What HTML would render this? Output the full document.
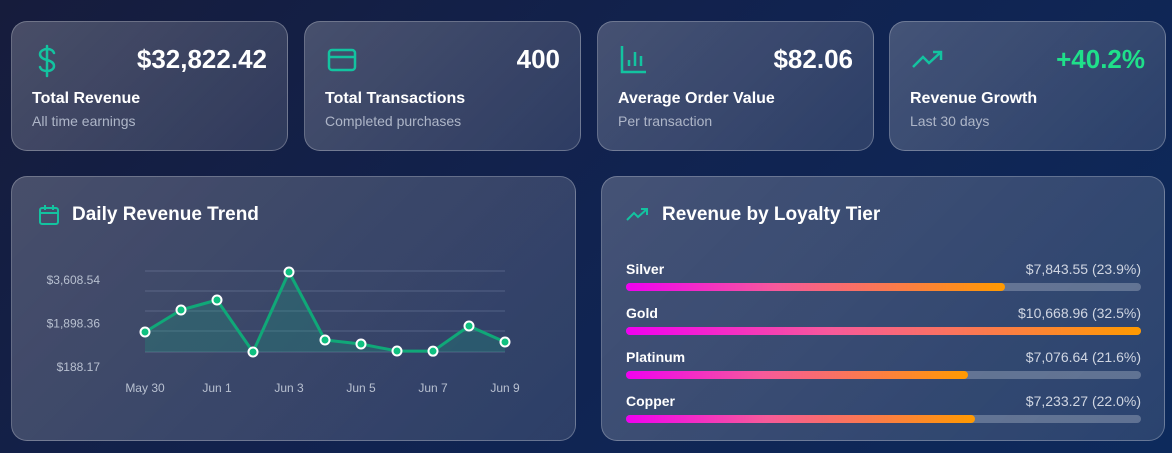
<!DOCTYPE html>
<html><head><meta charset="utf-8"><style>
*{box-sizing:border-box;margin:0;padding:0}
body{width:1172px;height:453px;overflow:hidden;font-family:"Liberation Sans",sans-serif;background:linear-gradient(135deg,#161c3c 0%,#112350 50%,#0d2a5c 100%);position:relative;color:#fff}
.card{position:absolute;border:1px solid rgba(255,255,255,0.25);border-radius:16px;background:linear-gradient(135deg,rgba(255,255,255,0.22),rgba(255,255,255,0.12))}
.icon{position:absolute;left:22px;top:22px}
.val{position:absolute;right:20px;top:22px;font-size:26px;font-weight:bold}
.lbl{position:absolute;left:20px;top:68px;font-size:16px;font-weight:bold}
.sub{position:absolute;left:20px;top:91px;font-size:14px;color:#aeb6c8}
.title{position:absolute;left:60px;top:27px;font-size:19px;font-weight:bold}
.tier{position:absolute;left:24px;width:515px}
.tier .n{position:absolute;left:0;top:-8px;font-size:14px;font-weight:bold}
.tier .v{position:absolute;right:0;top:-8px;font-size:14px;color:#d0d6e2}
.track{position:absolute;left:0;top:14px;width:515px;height:8px;border-radius:4px;background:rgba(160,170,190,0.45)}
.fill{height:8px;border-radius:4px;background:linear-gradient(90deg,#f000f0,#f65a9a 40%,#ff9a00)}
</style></head><body>
<div class="card" style="left:11px;top:21px;width:277px;height:130px">
<svg class="icon" width="26" height="34" viewBox="0 0 26 34"><path d="M13 2v30M20 9c-1-3-4-4-7-4s-7 2-7 5 3 5 7 6 7 3 7 6-3 5-7 5-6-1-7-4" fill="none" stroke="#13c3a0" stroke-width="2.5" stroke-linecap="round"/></svg>
<div class="val">$32,822.42</div>
<div class="lbl">Total Revenue</div>
<div class="sub">All time earnings</div></div>
<div class="card" style="left:304px;top:21px;width:277px;height:130px">
<svg class="icon" style="top:26px" width="30" height="24" viewBox="0 0 30 24"><rect x="2" y="2" width="26" height="20" rx="3" fill="none" stroke="#13c3a0" stroke-width="2.5"/><path d="M2 9h26" stroke="#13c3a0" stroke-width="2.5"/></svg>
<div class="val">400</div>
<div class="lbl">Total Transactions</div>
<div class="sub">Completed purchases</div></div>
<div class="card" style="left:597px;top:21px;width:277px;height:130px">
<svg class="icon" width="28" height="30" viewBox="0 0 28 30"><path d="M2 2v26h24M9 22v-6M15 22V8M21 22v-10" fill="none" stroke="#13c3a0" stroke-width="2.5"/></svg>
<div class="val">$82.06</div>
<div class="lbl">Average Order Value</div>
<div class="sub">Per transaction</div></div>
<div class="card" style="left:889px;top:21px;width:277px;height:130px">
<svg class="icon" style="top:28px" width="32" height="20" viewBox="0 0 32 20"><path d="M1 17l10-10 6 6 12-11M21 2h8v8" fill="none" stroke="#13c3a0" stroke-width="2.5"/></svg>
<div class="val" style="color:#1fe08a">+40.2%</div>
<div class="lbl">Revenue Growth</div>
<div class="sub">Last 30 days</div></div>

<div class="card" style="left:11px;top:176px;width:565px;height:265px">
<svg style="position:absolute;left:26px;top:27px" width="22" height="22" viewBox="0 0 22 22"><rect x="2" y="4" width="18" height="16" rx="2" fill="none" stroke="#13c3a0" stroke-width="2"/><path d="M2 9h18M7 1v5M15 1v5" stroke="#13c3a0" stroke-width="2"/></svg>
<div class="title">Daily Revenue Trend</div></div>
<svg id="chart" style="position:absolute;left:0;top:0" width="600" height="453"></svg>

<div class="card" style="left:601px;top:176px;width:564px;height:265px">
<svg style="position:absolute;left:24px;top:31px" width="24" height="14" viewBox="0 0 24 14"><path d="M1 12l7-7 4 4 9-8M15 1h6v6" fill="none" stroke="#13c3a0" stroke-width="2"/></svg>
<div class="title">Revenue by Loyalty Tier</div>
<div id="tiers"></div></div>
<script>
const categories=["May 30","May 31","Jun 1","Jun 2","Jun 3","Jun 4","Jun 5","Jun 6","Jun 7","Jun 8","Jun 9"];
const revenue=[1564,2429,2822,778,3923,1249,1092,817,810,1800,1171];
const yTicks=["$3,608.54","$1,898.36","$188.17"];
const yTickVals=[3608.54,1898.36,188.17];
const xTickIdx=[0,2,4,6,8,10];
const tierNames=["Silver","Gold","Platinum","Copper"];
const tierValues=[7843.55,10668.96,7076.64,7233.27];
const tierPct=["23.9%","32.5%","21.6%","22.0%"];

const NS="http://www.w3.org/2000/svg";
const svg=document.getElementById('chart');
const x=i=>145+i*(360/(categories.length-1));
const y=v=>367-(v-188.17)/(3608.54-188.17)*87;
function mk(t,a){const e=document.createElementNS(NS,t);for(const k in a)e.setAttribute(k,a[k]);svg.appendChild(e);return e;}
[271,291,311,331,352].forEach(gy=>{const l=mk('line',{x1:145,x2:505,y1:gy,y2:gy,stroke:'rgba(150,165,195,0.22)','stroke-width':1.5});

});
yTicks.forEach((t,i)=>{const e=mk('text',{x:100,y:y(yTickVals[i])+4,'text-anchor':'end','font-size':12,fill:'#b8c0d0'});e.textContent=t;

});
xTickIdx.forEach(i=>{const e=mk('text',{x:x(i),y:392,'text-anchor':'middle','font-size':12,fill:'#b8c0d0'});e.textContent=categories[i];

});
let pts=revenue.map((v,i)=>x(i)+','+y(v));
const area=mk('path',{d:'M'+x(0)+',352L'+pts.join('L')+'L'+x(revenue.length-1)+',352Z',fill:'rgba(16,185,129,0.2)'});


const line=mk('polyline',{points:pts.join(' '),fill:'none',stroke:'#10a878','stroke-width':3,'stroke-linejoin':'round'});


revenue.forEach((v,i)=>{const c=mk('circle',{cx:x(i),cy:y(v),r:4.5,fill:'#10c080',stroke:'#fff','stroke-width':2});

});

const tc=document.getElementById('tiers');
const mx=Math.max(...tierValues);
tierNames.forEach((n,i)=>{const d=document.createElement('div');d.className='tier';d.style.top=(92+i*44)+'px';


const fmt='$'+tierValues[i].toLocaleString('en-US',{minimumFractionDigits:2});
d.innerHTML='<div class="n">'+n+'</div><div class="v">'+fmt+' ('+tierPct[i]+')</div><div class="track"><div class="fill" style="width:'+(tierValues[i]/mx*100)+'%"></div></div>';
tc.appendChild(d);});
</script>
</body></html>
